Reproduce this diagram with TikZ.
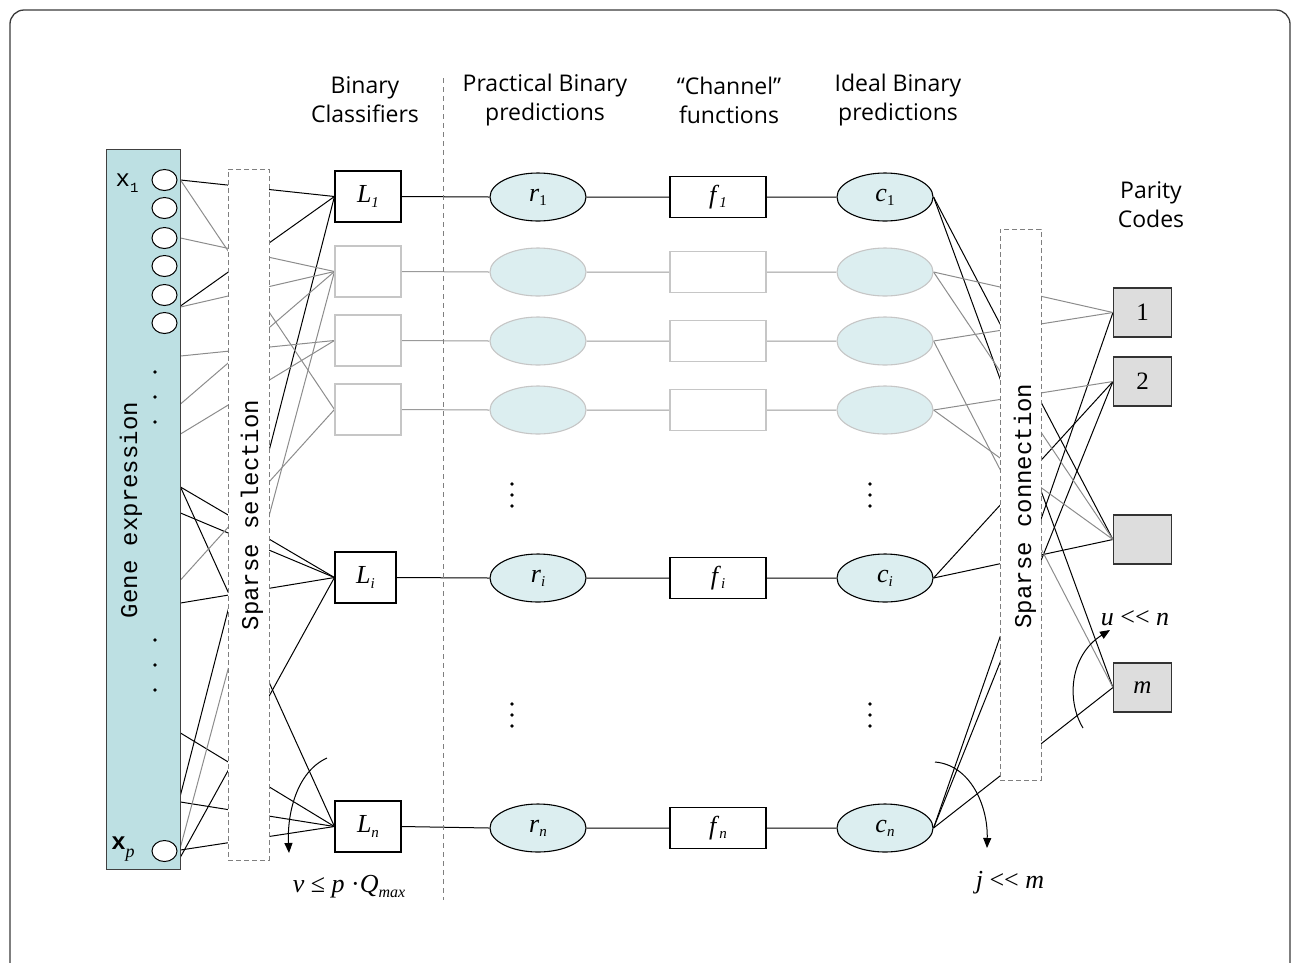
\documentclass[tikz,border=0pt]{standalone}
\usepackage{fontspec}
\setmainfont{Liberation Serif}
\newfontfamily\hdrfont{Open Sans}
\newfontfamily\cmono{Liberation Mono}
\usetikzlibrary{shapes.geometric,arrows.meta}
\pgfdeclarelayer{bg}
\pgfsetlayers{bg,main}
\definecolor{barfill}{HTML}{BDE0E3}
\definecolor{ellfill}{HTML}{DCEEF0}
\definecolor{lgray}{HTML}{8C8C8C}
\definecolor{rowgray}{HTML}{9A9A9A}
\definecolor{boxgray}{HTML}{C6C6C6}
\definecolor{pfill}{HTML}{DDDDDD}
\definecolor{dashgray}{HTML}{7F7F7F}
\definecolor{framec}{HTML}{3A3A3A}
\newcommand\fsz[2]{\fontsize{#1}{#2}\selectfont}
\newcommand\mylab[2]{\textit{#1}\raisebox{-0.35ex}{\fsz{15}{15}#2}}
\newcommand\llt{<\kern0pt<}
\begin{document}
\begin{tikzpicture}[x=1pt,y=-1pt,
  blk/.style={black,line width=1pt},
  gry/.style={lgray,line width=1pt},
  rgry/.style={rowgray,line width=1pt},
  bar/.style={rectangle,draw=black!75,line width=1pt,fill=barfill,minimum width=74pt,minimum height=720pt,inner sep=0pt},
  clf/.style={rectangle,draw=black,line width=1.1pt,fill=white,minimum width=66pt,minimum height=51pt,inner sep=0pt,font=\fsz{26}{26}},
  clfg/.style={clf,draw=boxgray},
  ell/.style={ellipse,draw=black,line width=1.1pt,fill=ellfill,minimum width=96pt,minimum height=48pt,inner sep=0pt,font=\fsz{26}{26}},
  ellg/.style={ell,draw=boxgray},
  fbx/.style={rectangle,draw=black,line width=1.1pt,fill=white,minimum width=96pt,minimum height=41pt,inner sep=0pt,font=\fsz{26}{26}},
  fbxg/.style={fbx,draw=boxgray},
  pbx/.style={rectangle,draw=black!80,line width=1.1pt,fill=pfill,minimum width=58pt,minimum height=49pt,inner sep=0pt,font=\fsz{25}{25}},
  sparse/.style={rectangle,draw=dashgray,dash pattern=on 5pt off 3pt,line width=0.9pt,fill=white,inner sep=0pt},
  circ/.style={ellipse,draw=black,line width=1pt,fill=white,minimum width=25pt,minimum height=21pt,inner sep=0pt},
  hdr/.style={font=\hdrfont\fsz{23}{29},align=center,inner sep=0pt},
  mono/.style={font=\cmono\fsz{24}{24},inner sep=0pt},
  dot/.style={circle,fill=black,inner sep=0pt,minimum size=3.6pt},
  ann/.style={black,line width=1pt,-{Triangle[length=10pt,width=8pt]}},
  mth/.style={font=\fsz{26}{26},inner sep=0pt},
]
\useasboundingbox (0,0) rectangle (1292,962);
\clip (0,0) rectangle (1292,962);
\draw[framec,line width=1.3pt,rounded corners=14pt] (10,10) rectangle (1290,1000);

% headers
\node[hdr] (h1) at (365,100) {Binary\\Classifiers};
\node[hdr] (h2) at (545,100) {Practical Binary\\predictions};
\node[hdr] (h3) at (729,100) {“Channel”\\functions};
\node[hdr] (h4) at (898,100) {Ideal Binary\\predictions};
\node[hdr] (h5) at (1151,205) {Parity\\Codes};
\coordinate (sepT) at (443,78);
\coordinate (sepB) at (443,900);
\draw[dashgray,line width=1pt,dash pattern=on 5pt off 4pt] (sepT) -- (sepB);

% gene expression bar
\node[bar] (gene) at (143,509) {};
\foreach \n/\y in {1/180,2/208,3/238,4/266,5/295,6/323}
  \node[circ] (g\n) at (164.5,\y) {};
\node[circ] (gp) at (164.5,851) {};
\node[font=\cmono\fsz{24}{24},inner sep=0pt] (x1) at (127,183) {x\raisebox{-0.5ex}{\fsz{14}{14}1}};
\node[font=\cmono\bfseries\fsz{24}{24},inner sep=0pt] (xp) at (123,849) {x\raisebox{-0.6ex}{\rmfamily\mdseries\itshape\fsz{18}{18}p}};
\foreach \y in {372,397,422,640,665,690}
  \node[dot] at (155,\y) {};
\node[mono,rotate=90] (gtxt) at (131,510) {Gene expression};

% sparse selection
\node[sparse,minimum width=41pt,minimum height=691pt] (sel) at (248.5,514.5) {};
\node[mono,rotate=90] (seltxt) at (252,515) {Sparse selection};

% classifiers
\node[clf] (L1) at (368,196.5) {\mylab{L}{\textit{1}}};
\node[clfg] (G2) at (368,271.5) {};
\node[clfg] (G3) at (368,340.5) {};
\node[clfg] (G4) at (368,409.5) {};
\node[clf,minimum width=61pt] (Li) at (365.5,577.5) {\mylab{L}{\textit{i}}};
\node[clf] (Ln) at (368,826.5) {\mylab{L}{\textit{n}}};

% rows
\node[ell] (r1) at (538,197) {\mylab{r}{1}};
\node[ellg] (r2) at (538,272) {};
\node[ellg] (r3) at (538,341) {};
\node[ellg] (r4) at (538,410) {};
\node[ell] (ri) at (538,578) {\mylab{r}{\textit{i}}};
\node[ell] (rn) at (538,828) {\mylab{r}{\textit{n}}};
\node[fbx] (f1) at (718,197) {\mylab{f}{\textit{1}}};
\node[fbxg] (f2) at (718,272) {};
\node[fbxg] (f3) at (718,341) {};
\node[fbxg] (f4) at (718,410) {};
\node[fbx] (fi) at (718,578) {\mylab{f}{\textit{i}}};
\node[fbx] (fn) at (718,828) {\mylab{f}{\textit{n}}};
\node[ell] (c1) at (885,197) {\mylab{c}{1}};
\node[ellg] (c2) at (885,272) {};
\node[ellg] (c3) at (885,341) {};
\node[ellg] (c4) at (885,410) {};
\node[ell] (ci) at (885,578) {\mylab{c}{\textit{i}}};
\node[ell] (cn) at (885,828) {\mylab{c}{\textit{n}}};
\foreach \x/\y in {512/495,870/495,512/715,870/715}{
  \node[dot] at (\x,\y-11) {};
  \node[dot] at (\x,\y) {};
  \node[dot] at (\x,\y+11) {};
}

% sparse connection
\node[sparse,minimum width=41pt,minimum height=551pt] (con) at (1020.5,504.5) {};
\node[mono,rotate=90] (contxt) at (1025,506) {Sparse connection};

% parity boxes
\node[pbx] (P1) at (1142.5,312.5) {1};
\node[pbx] (P2) at (1142.5,381.5) {2};
\node[pbx] (P3) at (1142.5,539.5) {};
\node[pbx] (Pm) at (1142.5,687.5) {\textit{m}};

% annotations
\node[mth] (vq) at (349,887) {\textit{v} ≤ \textit{p} ·\textit{Q}\raisebox{-0.4ex}{\fsz{16}{16}\textit{max}}};
\node[mth] (jm) at (1010,883) {\textit{j} \llt{} \textit{m}};
\node[mth] (un) at (1135,618) {\textit{u} \llt{} \textit{n}};
\coordinate (a1s) at (327,758);
\coordinate (a1e) at (289,853);
\draw[ann] (a1s) .. controls (296,772) and (287,815) .. (a1e);
\coordinate (a2s) at (935,762);
\coordinate (a2e) at (987,848);
\draw[ann] (a2s) .. controls (970,765) and (988,805) .. (a2e);
\coordinate (a3s) at (1083,728);
\coordinate (a3e) at (1110,630);
\draw[ann] (a3s) .. controls (1066,700) and (1070,655) .. (a3e);

\begin{pgfonlayer}{bg}
  \foreach \y/\t/\s in {180/L1/blk,306/L1/blk,795/L1/blk,487/Li/blk,513/Li/blk,603/Li/blk,857/Li/blk,487/Ln/blk,733/Ln/blk,802/Ln/blk,850/Ln/blk,180/G4/gry,238/G2/gry,307/G2/gry,404/G2/gry,847/G2/gry,356/G3/gry,434/G3/gry,580/G4/gry}
    \draw[\s] (gene.east |- 0,\y) -- (\t.west);
  \draw[blk] (L1.east) -- (r1.west) (r1.east) -- (f1.west) (f1.east) -- (c1.west);
  \draw[blk] (Li.east) -- (ri.west) (ri.east) -- (fi.west) (fi.east) -- (ci.west);
  \draw[blk] (Ln.east) -- (rn.west) (rn.east) -- (fn.west) (fn.east) -- (cn.west);
  \foreach \k in {2,3,4}
    \draw[rgry] (G\k.east) -- (r\k.west) (r\k.east) -- (f\k.west) (f\k.east) -- (c\k.west);
  \foreach \a/\b/\s in {c1/P3/blk,c1/Pm/blk,ci/P2/blk,ci/P3/blk,cn/P1/blk,cn/P2/blk,cn/Pm/blk,c2/P1/gry,c3/P1/gry,c4/P2/gry,c2/P3/gry,c4/P3/gry,c3/Pm/gry}
    \draw[\s] (\a.east) -- (\b.west);
\end{pgfonlayer}
\end{tikzpicture}
\end{document}
